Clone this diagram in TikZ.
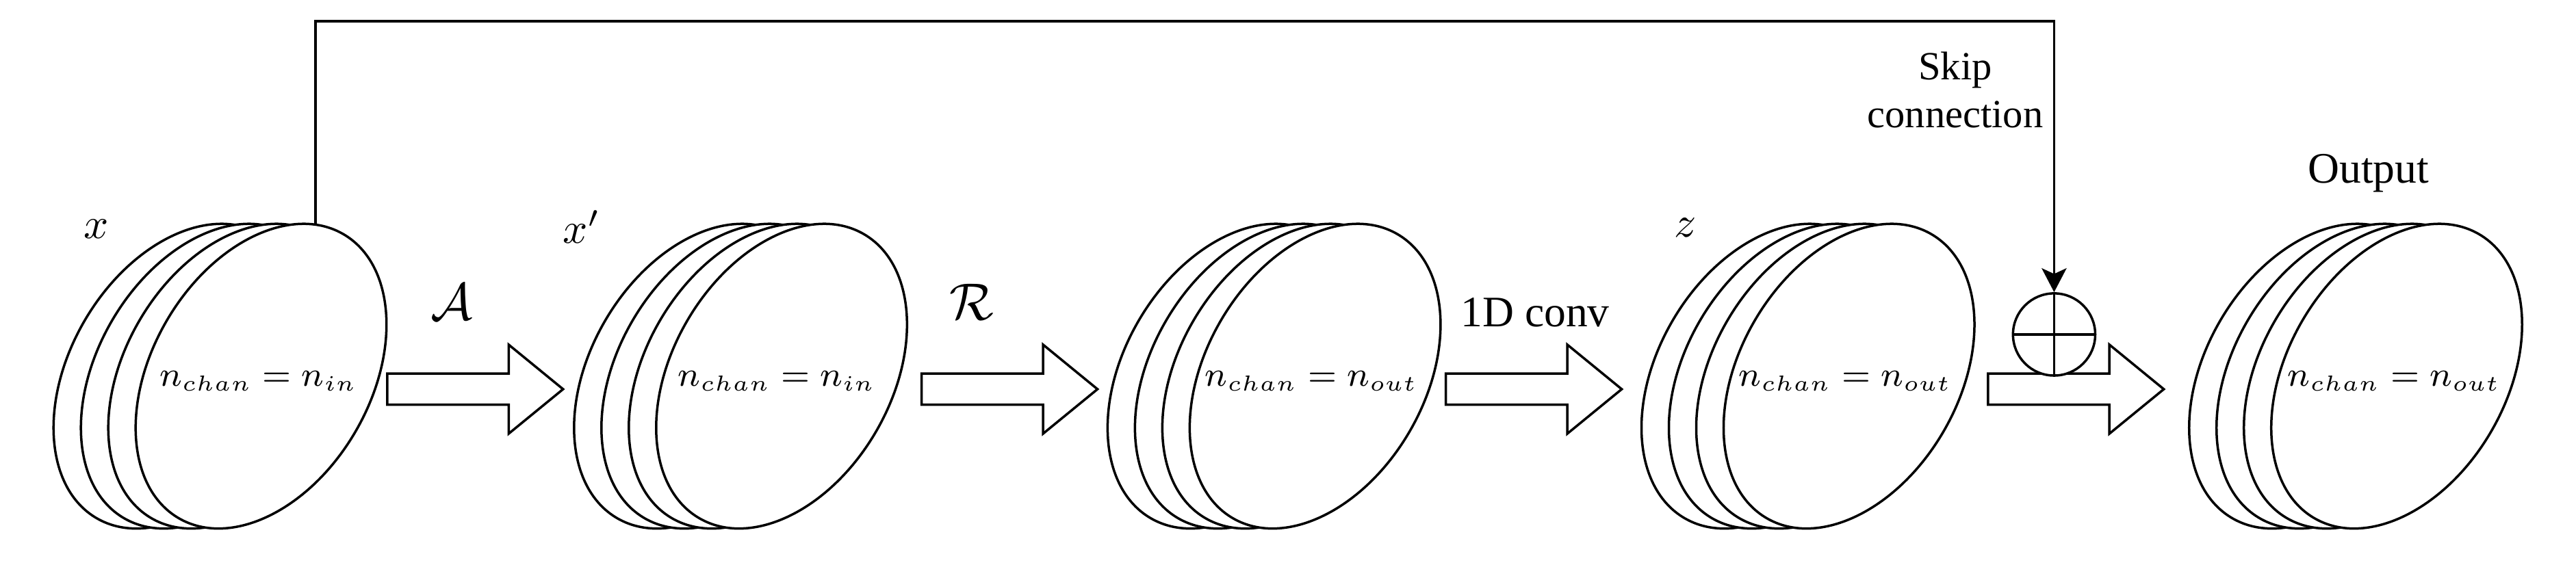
\documentclass[tikz,border=0pt]{standalone}
\usepackage{fontspec}
\setmainfont{Liberation Serif}
\usetikzlibrary{arrows.meta,shapes.arrows}

\tikzset{
    disk/.style={draw, fill=white},
    disktext/.style={inner sep=0pt, font=\fontsize{7.8}{9.4}\selectfont},
    blockarrow/.style={draw, single arrow, anchor=tail, inner xsep=0pt, inner ysep=0.116cm,
        minimum height=1.42cm, minimum width=0.70cm,
        single arrow head extend=0.234cm, single arrow tip angle=78.6},
}

\begin{document}
\begin{tikzpicture}[line width=0.55pt]
        \useasboundingbox (0,0) rectangle (20.8,4.664);

        % stacks of channels, drawn back to front
        \foreach \cx in {2.108, 6.311, 10.619, 14.930, 19.352}{
            \foreach \i in {3,2,1,0}{
                \pgfmathsetmacro\px{\cx-0.221*\i}
                \draw[disk, rotate around={60:(\px,1.625)}] (\px,1.625) ellipse (1.326 and 0.884);
            }
        }

        \node[disktext] (xin) at (2.086,1.586) {$n_{chan} = n_{in}$};
        \node[disktext] (xpin) at (6.272,1.586) {$n_{chan} = n_{in}$};
        \node[disktext] (hout) at (10.588,1.586) {$n_{chan} = n_{out}$};
        \node[disktext] (zout) at (14.898,1.586) {$n_{chan} = n_{out}$};
        \node[disktext] (yout) at (19.330,1.586) {$n_{chan} = n_{out}$};

        \node (xlab) at (0.779,2.813) {$x$};
        \node (xplab) at (4.697,2.829) {$x'$};
        \node (zlab) at (13.611,2.824) {$z$};
        \node (outlab) at (19.125,3.266) {Output};

        % operations between the stacks
        \node[blockarrow] (opA) at (3.117,1.520) {};
        \node[blockarrow] (opR) at (7.432,1.520) {};
        \node[blockarrow] (opconv) at (11.665,1.520) {};
        \node[blockarrow] (opsum) at (16.042,1.520) {};

        \node (Alab) at (3.647,2.223) {\large $\mathcal{A}$};
        \node (Rlab) at (7.847,2.223) {\large $\mathcal{R}$};
        \node (convlab) at (12.395,2.141) {1D conv};

        % skip connection
        \node[draw, circle, fill=white, inner sep=0pt, minimum size=0.664cm] (sum) at (16.586,1.962) {};
        \draw (sum.north) -- (sum.south) (sum.west) -- (sum.east);

        \coordinate (skipstart) at (2.547,2.849);
        \coordinate (skiptop) at (2.547,4.494);
        \draw[-{Stealth[length=5.5pt,width=5.7pt,inset=1.3pt]}] (skipstart) -- (skiptop) -| (sum.north);

        \node[align=center, font=\fontsize{9.2}{11}\selectfont] (skiplab) at (15.788,3.935) {Skip\\connection};
    \end{tikzpicture}
\end{document}
